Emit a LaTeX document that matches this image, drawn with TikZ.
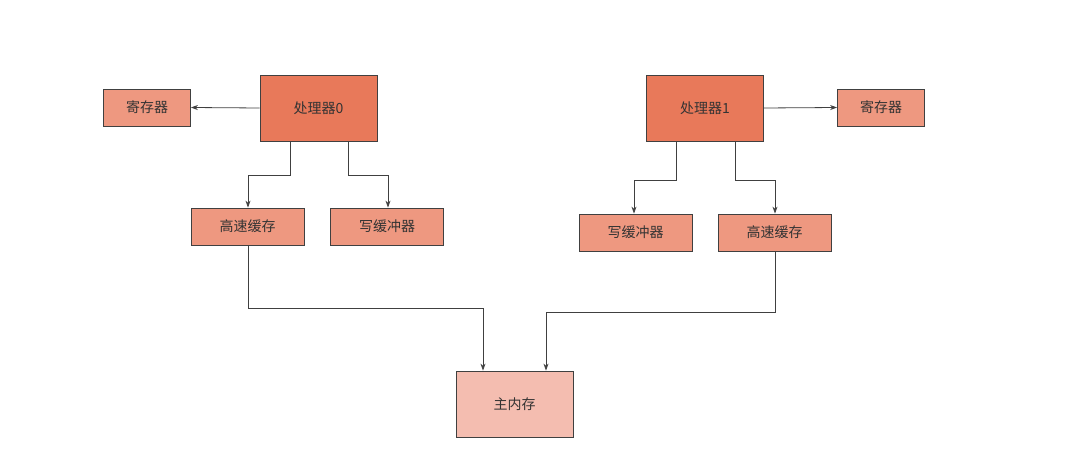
\documentclass[tikz,border=0pt]{standalone}
\usepackage{fontspec}
\setmainfont{Noto Sans CJK SC}
\usetikzlibrary{arrows.meta}
\definecolor{proc}{HTML}{E8795A}
\definecolor{sub}{HTML}{EE9880}
\definecolor{mem}{HTML}{F4BDB0}
\begin{document}
\begin{tikzpicture}[x=1pt,y=-1pt,
  box/.style={draw=black!75,line width=0.8pt,inner sep=0pt,font=\fontsize{14}{16}\selectfont,text=black!80},
  big/.style={box,fill=proc,minimum width=117pt,minimum height=66pt},
  small/.style={box,fill=sub,minimum width=87pt,minimum height=37pt},
  mid/.style={box,fill=sub,minimum width=113pt,minimum height=37pt},
  conn/.style={draw=black!75,line width=0.8pt,-{Stealth[length=7pt,width=5pt]}}]
\useasboundingbox[fill=white] (0,0) rectangle (1080,465);
\node[big] (p0) at (318.5,108) {处理器0};
\node[big] (p1) at (705,108) {处理器1};
\node[small] (r0) at (147,107.5) {寄存器};
\node[small] (r1) at (881,107.5) {寄存器};
\node[mid] (c0) at (247.5,226.5) {高速缓存};
\node[mid] (w0) at (387,226.5) {写缓冲器};
\node[mid] (w1) at (635.5,232.5) {写缓冲器};
\node[mid] (c1) at (774.5,232.5) {高速缓存};
\node[box,fill=mem,minimum width=117pt,minimum height=66pt] (m) at (514.5,404) {主内存};
\draw[conn] (p0.west) -- (r0.east);
\draw[conn] (p1.east) -- (r1.west);
\draw[conn] (p0.south -| 290,0) |- (248,175) -- (c0.north -| 248,0);
\draw[conn] (p0.south -| 348,0) |- (388,175) -- (w0.north -| 388,0);
\draw[conn] (p1.south -| 676,0) |- (634,180) -- (w1.north -| 634,0);
\draw[conn] (p1.south -| 735,0) |- (775,180) -- (c1.north -| 775,0);
\draw[conn] (c0.south -| 248,0) |- (483,308) -- (m.north -| 483,0);
\draw[conn] (c1.south -| 775,0) |- (546,312) -- (m.north -| 546,0);
\end{tikzpicture}
\end{document}
